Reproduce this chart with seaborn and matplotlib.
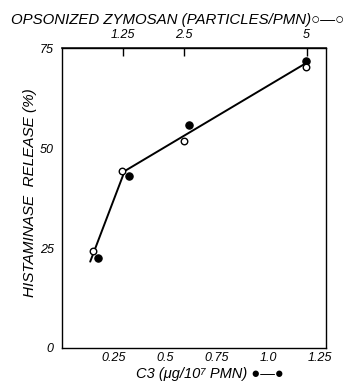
import matplotlib
matplotlib.use("Agg")
import matplotlib.pyplot as plt
import seaborn as sns
import pandas as pd

# Data
c3_x = [0.173, 0.325, 0.616, 1.181]          # C3 (ug/10^7 PMN), filled circles
c3_y = [22.4, 43.0, 55.8, 71.8]
zym_x = [0.149, 0.293, 0.593, 1.181]         # opsonized zymosan (plotted on C3 scale), open circles
zym_y = [24.3, 44.3, 51.8, 70.3]
fit_x = [0.137, 0.304, 1.181]                # drawn curve
fit_y = [21.6, 44.25, 71.2]

x_ticks = [0.25, 0.5, 0.75, 1.0, 1.25]
x_ticklabels = ["0.25", "0.5", "0.75", "1.0", "1.25"]
y_ticks = [0, 25, 50, 75]
top_ticks = [1.25, 2.5, 5]
top_ticklabels = ["1.25", "2.5", "5"]
scale = 4.22  # particles per C3 unit

sns.set_theme(style="white")
plt.rcParams["font.family"] = ["Liberation Sans", "DejaVu Sans"]
plt.rcParams["font.style"] = "italic"
plt.rcParams["text.color"] = "black"
plt.rcParams["axes.labelcolor"] = "black"

fig = plt.figure(figsize=(3.6, 3.83), dpi=100)
ax = fig.add_axes([0.172, 0.0914, 0.734, 0.783])

fit_df = pd.DataFrame({"x": fit_x, "y": fit_y})
sns.lineplot(data=fit_df, x="x", y="y", ax=ax, color="black", lw=1.4, sort=False)
c3_df = pd.DataFrame({"x": c3_x, "y": c3_y})
sns.scatterplot(data=c3_df, x="x", y="y", ax=ax, color="black", s=28, edgecolor="black", linewidth=0.8, zorder=3)
zym_df = pd.DataFrame({"x": zym_x, "y": zym_y})
sns.scatterplot(data=zym_df, x="x", y="y", ax=ax, facecolor="white", s=22, edgecolor="black", linewidth=1.0, zorder=4)

ax.set_xlim(0, 1.28)
ax.set_ylim(0, 75)
ax.set_xticks(x_ticks)
ax.set_xticklabels(x_ticklabels)
ax.set_yticks(y_ticks)
ax.tick_params(axis="both", direction="in", length=6, width=1, colors="black", labelsize=9)
ax.tick_params(axis="x", pad=3)
ax.tick_params(axis="y", pad=6)
for s in ax.spines.values():
    s.set_color("black")
    s.set_linewidth(1)

ax.set_xlabel("C3 (\u03bcg/10\u2077 PMN) \u25cf\u2014\u25cf", fontsize=10.5)
ax.xaxis.set_label_coords(0.56, -0.087)
ax.xaxis.label.set_va("center")
ax.set_ylabel("HISTAMINASE  RELEASE (%)", fontsize=11)
ax.yaxis.set_label_coords(-0.121, 0.517)
ax.yaxis.label.set_va("center")

sec = ax.secondary_xaxis("top", functions=(lambda x: x * scale, lambda x: x / scale))
sec.set_xticks(top_ticks)
sec.set_xticklabels(top_ticklabels)
sec.tick_params(direction="in", length=6, width=1, colors="black", labelsize=9, pad=5)

fig.text(178 / 360, 1 - 20 / 383, "OPSONIZED ZYMOSAN (PARTICLES/PMN)\u25cb\u2014\u25cb",
         fontsize=10.8, ha="center", va="center", color="black")

fig.savefig("out.png", dpi=100)
